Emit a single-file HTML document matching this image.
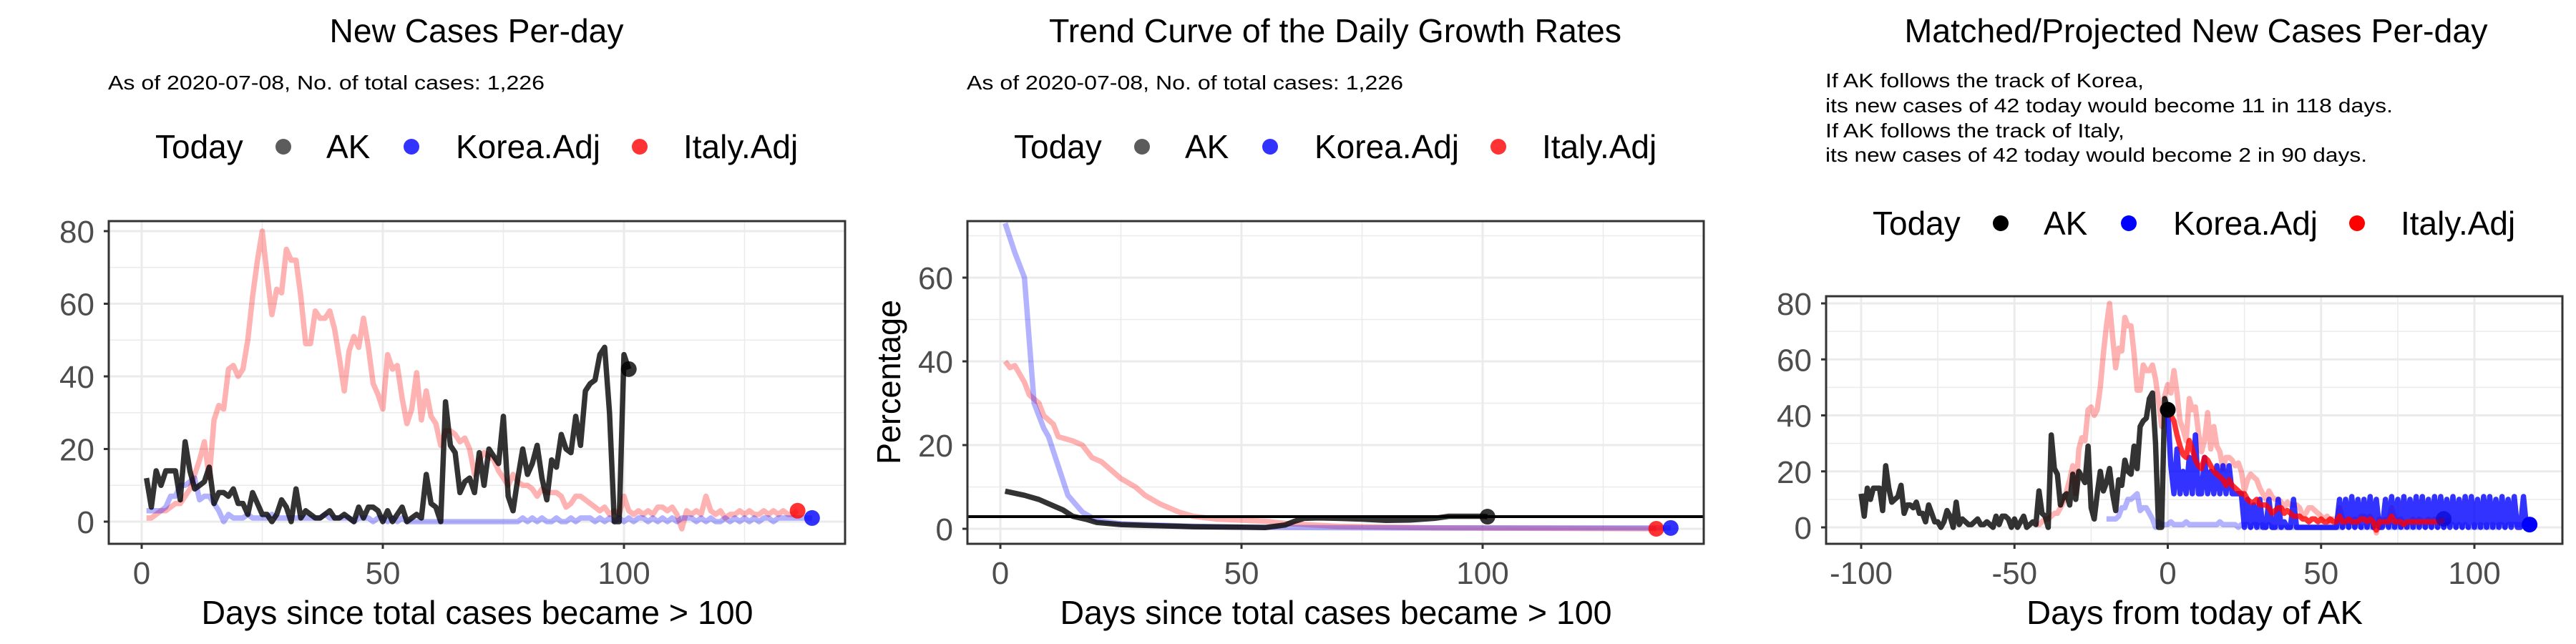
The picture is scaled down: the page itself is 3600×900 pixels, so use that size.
<!DOCTYPE html>
<html><head><meta charset="utf-8"><style>
html,body{margin:0;padding:0;background:#fff}
svg{display:block}
text{font-family:"Liberation Sans",Arial,sans-serif}
</style></head><body>
<svg id="chart" width="3600" height="900" viewBox="0 0 3600 900" xmlns="http://www.w3.org/2000/svg"></svg>
<script>
// ---- Panel 1: new cases per day ----
const akNew = [12,4,14,10,14,14,14,6,22,14,9,10,11,15,5,8,8,7,9,5,5,2,8,5,2,2,0,2,6,4,0,9,1,3,2,1,1,2,3,1,1,2,1,0,4,1,4,4,3,0,3,0,2,4,0,1,2,1,13,5,4,0,33,21,19,8,11,12,8,19,10,20,18,16,29,7,3,12,20,13,16,21,12,6,17,15,24,20,19,29,21,36,38,39,46,48,30,0,0,46,42];
const italyNew = [1,1,2,3,3,4,5,5,7,9,13,17,22,12,28,32,31,42,43,40,42,50,62,72,80,68,57,64,63,75,72,72,62,49,49,58,56,56,58,53,45,36,47,51,48,56,48,38,35,31,46,42,43,34,27,31,41,28,36,29,27,21,25,25,24,22,23,20,13,17,19,18,17,14,12,10,13,11,10,10,9,7,9,8,8,8,7,4,5,7,7,6,5,4,3,4,2,3,2,7,3,2,3,2,3,2,4,4,3,4,2,-2,3,2,3,2,7,3,2,3,1,2,2,3,2,3,2,2,3,2,3,2,3,2,2,3];
const koreaNew = [3,3,3,3,4,7,7,10,10,11,12,6,7,7,5,3,0,2,1,1,1,2,1,1,1,1,2,1,1,1,1,1,1,1,1,1,1,2,1,1,1,1,1,0,1,1,1,0,1,1,0,1,0,1,0,0,0,0,0,0,0,0,0,0,0,0,0,0,0,0,0,0,0,0,0,0,0,0,1,0,1,0,1,0,0,1,0,0,1,0,1,1,1,0,1,0,1,0,1,0,1,0,1,1,0,1,0,1,0,1,0,1,1,1,0,1,0,1,0,0,1,0,1,0,1,0,1,0,1,1,0,1,1,1,1,1,1,1,1];
// ---- Panel 2: growth rate trend ----
const akGrowthDays = [1,3,5,8,10,13,15,18,20,25,30,40,50,55,57,59,61,63,66,70,75,80,85,90,93,96,100,101];
const akGrowth = [9,8.5,8,7,6,4.5,3,2.2,1.5,1,0.8,0.5,0.4,0.3,0.6,0.9,1.8,2.5,2.6,2.5,2.3,2,2.1,2.5,3,3,3,2.9];
const koreaGrowthDays = [1,3,5,6,7,9,10,12,14,17,20,25,30,40,50,60,80,100,139];
const koreaGrowth = [73,66,60,45,30,24,22,15,8,4,2,1.2,1,0.6,0.4,0.3,0.2,0.2,0.2];
const italyGrowthDays = [1,2,3,5,6,8,9,11,12,15,17,19,21,25,28,30,33,37,40,45,55,60,70,90,136];
const italyGrowth = [40,38.5,39,35,32,30,27,25,22,21,20,17,16,12,10,8,6,4,3,2.3,1.8,1.2,0.6,0.2,0];
const refLine = 2.9;
// ---- Panel 3: projections ----
const akOffset = -101, italyOffset = -44, koreaOffset = -21;
const redProj = [42,40,38,33,29,26,25,31,28,24,22,21,25,24,22,20,19,18,17,15,17,15,14,13,12,12,10,9,9,10,8,8,8,7,5,6,7,7,5,6,5,4,4,4,3,3,2,3,3,2,3,2,2,3,2,2,4,2,2,3,2,2,2,3,3,2,3,2,-1,2,2,2,2,4,2,2,2,1,2,2,2,2,2,2,2,2,2,2,2,2,3];
const blueProj = [42,22,12,28,12,20,12,25,12,33,12,12,25,12,20,12,22,12,22,12,22,12,12,12,12,0,10,0,8,0,10,0,0,10,0,0,10,0,2,0,0,10,0,0,0,0,0,0,0,0,0,0,0,0,0,0,10,0,10,0,11,0,10,0,10,0,11,0,10,0,0,10,0,11,0,10,0,11,0,10,0,11,0,11,0,10,0,11,0,11,0,10,0,11,0,10,0,11,0,11,0,10,0,11,0,11,0,10,0,11,0,10,0,11,0,0,11,0,1];

const NS = "http://www.w3.org/2000/svg";
const svg = document.getElementById('chart');
function el(tag, attrs, parent, txt){ const e=document.createElementNS(NS,tag); for(const k in attrs) e.setAttribute(k,attrs[k]); if(txt!==undefined) e.textContent=txt; (parent||svg).appendChild(e); return e; }

function panel(cfg){
  const g = el('g',{});
  
  
  const X = d => cfg.x0px + (d - cfg.x0v) * (cfg.x1px - cfg.x0px) / (cfg.x1v - cfg.x0v);
  const Y = v => cfg.y0px - (v - cfg.y0v) * (cfg.y0px - cfg.y1px) / (cfg.y1v - cfg.y0v);
  const L=cfg.L,R=cfg.R,T=cfg.T,B=cfg.B;
  const grid = el('g',{},g);
  
  
  cfg.yMinor.forEach(v=>el('line',{x1:L,x2:R,y1:Y(v),y2:Y(v),stroke:'#ebebeb','stroke-width':1.5},grid));
  cfg.xMinor.forEach(v=>el('line',{x1:X(v),x2:X(v),y1:T,y2:B,stroke:'#ebebeb','stroke-width':1.5},grid));
  cfg.yMajor.forEach(v=>el('line',{x1:L,x2:R,y1:Y(v),y2:Y(v),stroke:'#ebebeb','stroke-width':3},grid));
  cfg.xMajor.forEach(v=>el('line',{x1:X(v),x2:X(v),y1:T,y2:B,stroke:'#ebebeb','stroke-width':3},grid));
  const cp = 'clip-'+cfg.name;
  const defs = el('defs',{},g);
  const c = el('clipPath',{id:cp},defs);
  el('rect',{x:L,y:T,width:R-L,height:B-T},c);
  const plot = el('g',{'clip-path':'url(#'+cp+')'},g);
  cfg.series.forEach(s=>{
    const pts = s.days.map((d,i)=>X(d).toFixed(1)+','+Y(s.vals[i]).toFixed(1)).join(' ');
    const p = el('polyline',{points:pts,fill:'none',stroke:s.color,'stroke-opacity':s.op,'stroke-width':7.5,'stroke-linejoin':'round'},plot);
    
    
  });
  if(cfg.hline!==undefined){ el('line',{x1:L,x2:R,y1:Y(cfg.hline),y2:Y(cfg.hline),stroke:'#000','stroke-width':4},plot); }
  cfg.points.forEach(pt=>{
    const c2 = el('circle',{cx:X(pt.d),cy:Y(pt.v),r:11,fill:pt.color,'fill-opacity':pt.op},plot);
    
    
  });
  el('rect',{x:L,y:T,width:R-L,height:B-T,fill:'none',stroke:'#333','stroke-width':3},g);
  cfg.yMajor.forEach(v=>{
    el('line',{x1:L-7,x2:L,y1:Y(v),y2:Y(v),stroke:'#333','stroke-width':3},g);
    const t = el('text',{x:L-20,y:Y(v)+16,'text-anchor':'end','font-size':44,fill:'#4d4d4d'},g,String(v));
    
    
  });
  cfg.xMajor.forEach(v=>{
    el('line',{x1:X(v),x2:X(v),y1:B,y2:B+7,stroke:'#333','stroke-width':3},g);
    const t = el('text',{x:X(v),y:816,'text-anchor':'middle','font-size':44,fill:'#4d4d4d'},g,String(v));
    
    
  });
  return {X,Y};
}

function legend(x0, y, dark){
  const g = el('g',{});
  
  
  el('text',{x:x0,y:y+16,'font-size':46,fill:'#000'},g,'Today');
  const items=[['AK',dark?'#000':'#333',179,239],['Korea.Adj','#0000ff',358,420],['Italy.Adj','#ff0000',677,738]];
  items.forEach(it=>{
    const e=el('g',{},g);
    
    
    el('circle',{cx:x0+it[2],cy:y,r:11,fill:it[1],'fill-opacity':dark?1:0.8},e);
    el('text',{x:x0+it[3],y:y+16,'font-size':46,fill:'#000'},e,it[0]);
  });
}
function title(x, txt, len){ const t=el('text',{x:x,y:59,'text-anchor':'middle','font-size':46,fill:'#000',textLength:len,lengthAdjust:'spacingAndGlyphs'},svg,txt);   }
function sub(x,y,txt,len){ const t=el('text',{x:x,y:y,'font-size':28,fill:'#000',textLength:len,lengthAdjust:'spacingAndGlyphs'},svg,txt);   }
function xtitle(x,txt,len){ const t=el('text',{x:x,y:872,'text-anchor':'middle','font-size':46,fill:'#000',textLength:len,lengthAdjust:'spacingAndGlyphs'},svg,txt);   }

const range = (a,n)=>Array.from({length:n},(_,i)=>a+i);

// Panel 1
title(666,'New Cases Per-day',411);
sub(151,125,'As of 2020-07-08, No. of total cases: 1,226',610);
legend(217,205,false);
panel({name:'new-cases-panel',L:152,R:1181,T:309,B:760,x0v:0,x1v:100,x0px:198,x1px:872,y0v:0,y1v:80,y0px:729,y1px:323,
  yMajor:[0,20,40,60,80],yMinor:[10,30,50,70],xMajor:[0,50,100],xMinor:[25,75,125],
  series:[
    {name:'italy-line',days:range(1,italyNew.length),vals:italyNew,color:'#ff0000',op:0.3},
    {name:'korea-line',days:range(1,koreaNew.length),vals:koreaNew,color:'#0000ff',op:0.3},
    {name:'ak-line',days:range(1,akNew.length),vals:akNew,color:'#000',op:0.8}],
  points:[{name:'ak-today',d:akNew.length,v:akNew[akNew.length-1],color:'#000',op:0.8},
    {name:'italy-today',d:italyNew.length,v:italyNew[italyNew.length-1],color:'#ff0000',op:0.8},
    {name:'korea-today',d:koreaNew.length,v:koreaNew[koreaNew.length-1],color:'#0000ff',op:0.8}]});
xtitle(667,'Days since total cases became > 100',771);

// Panel 2
title(1866,'Trend Curve of the Daily Growth Rates',800);
sub(1351,125,'As of 2020-07-08, No. of total cases: 1,226',610);
legend(1417,205,false);
panel({name:'growth-rate-panel',L:1352,R:2381,T:309,B:760,x0v:0,x1v:100,x0px:1398,x1px:2072,y0v:0,y1v:60,y0px:739,y1px:388,
  yMajor:[0,20,40,60],yMinor:[10,30,50,70],xMajor:[0,50,100],xMinor:[25,75,125],hline:refLine,
  series:[
    {name:'italy-growth-line',days:italyGrowthDays,vals:italyGrowth,color:'#ff0000',op:0.3},
    {name:'korea-growth-line',days:koreaGrowthDays,vals:koreaGrowth,color:'#0000ff',op:0.3},
    {name:'ak-growth-line',days:akGrowthDays,vals:akGrowth,color:'#000',op:0.8}],
  points:[{name:'ak-today',d:101,v:akGrowth[akGrowth.length-1],color:'#000',op:0.8},
    {name:'italy-today',d:136,v:italyGrowth[italyGrowth.length-1],color:'#ff0000',op:0.8},
    {name:'korea-today',d:139,v:koreaGrowth[koreaGrowth.length-1],color:'#0000ff',op:0.8}]});
xtitle(1867,'Days since total cases became > 100',771);
const yt = el('text',{x:0,y:0,'text-anchor':'middle','font-size':46,fill:'#000',transform:'translate(1258,534) rotate(-90)',textLength:230,lengthAdjust:'spacingAndGlyphs'},svg,'Percentage');



// Panel 3
title(3069,'Matched/Projected New Cases Per-day',815);
sub(2551,122,'If AK follows the track of Korea,',445);
sub(2551,157,'its new cases of 42 today would become 11 in 118 days.',793);
sub(2551,192,'If AK follows the track of Italy,',418);
sub(2551,226,'its new cases of 42 today would become 2 in 90 days.',757);
legend(2617,312,true);
panel({name:'projection-panel',L:2552,R:3581,T:414,B:760,x0v:-100,x1v:100,x0px:2601,x1px:3458,y0v:0,y1v:80,y0px:737,y1px:424,
  yMajor:[0,20,40,60,80],yMinor:[10,30,50,70],xMajor:[-100,-50,0,50,100],xMinor:[-75,-25,25,75],
  series:[
    {name:'italy-matched-line',days:range(1+italyOffset,italyNew.length),vals:italyNew,color:'#ff0000',op:0.3},
    {name:'korea-matched-line',days:range(1+koreaOffset,koreaNew.length),vals:koreaNew,color:'#0000ff',op:0.3},
    {name:'ak-line',days:range(1+akOffset,akNew.length),vals:akNew,color:'#000',op:0.8},
    {name:'korea-projected-line',days:range(0,blueProj.length),vals:blueProj,color:'#0000ff',op:0.8},
    {name:'italy-projected-line',days:range(0,redProj.length),vals:redProj,color:'#ff0000',op:0.8}],
  points:[{name:'ak-today',d:0,v:42,color:'#000',op:1},
    {name:'italy-projected-end',d:redProj.length-1,v:redProj[redProj.length-1],color:'#0000cc',op:0.6},
    {name:'korea-projected-end',d:blueProj.length-1,v:blueProj[blueProj.length-1],color:'#0000ff',op:1}]});
xtitle(3067,'Days from today of AK',470);
</script>
</body></html>
